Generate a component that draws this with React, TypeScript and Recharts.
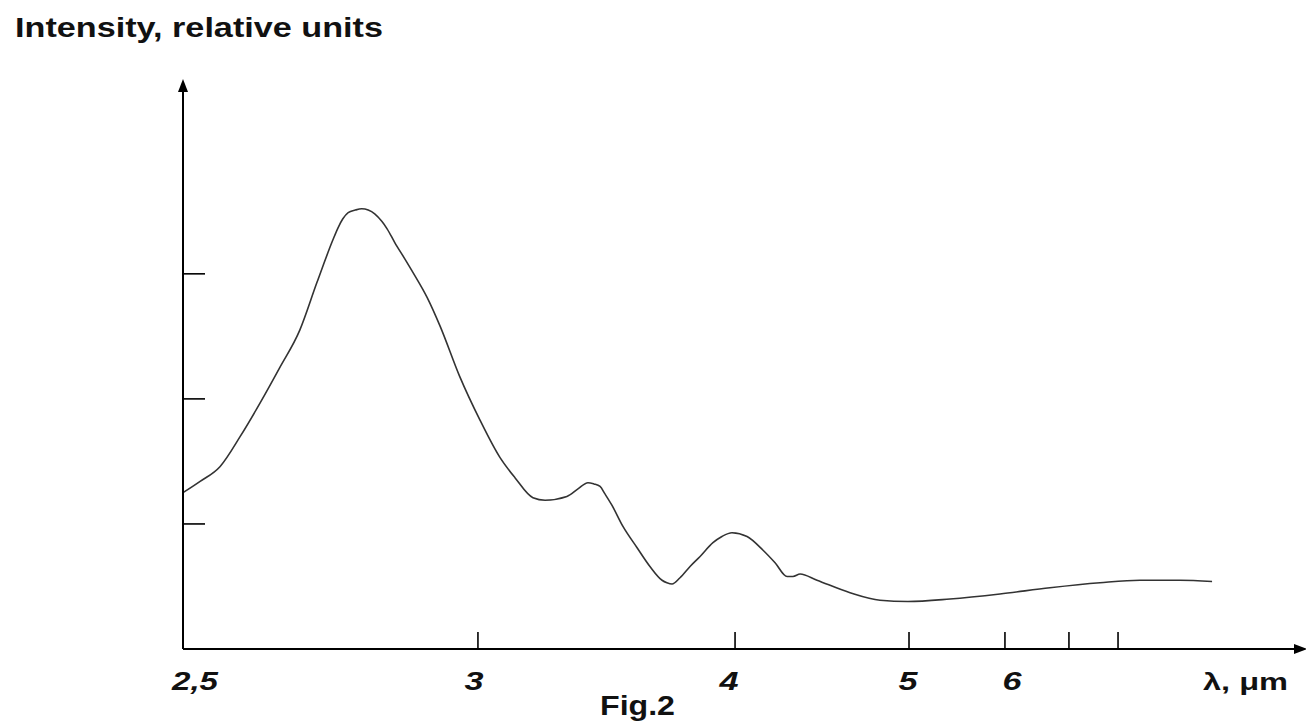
import React from 'react';
import { LineChart, Line, XAxis, YAxis, ReferenceDot } from 'recharts';

// ---- Data ----
const wavelengthUm = [
  2.5, 2.529, 2.563, 2.597, 2.631, 2.664, 2.698, 2.727, 2.754, 2.763,
  2.771, 2.78, 2.792, 2.803, 2.814, 2.825, 2.837, 2.846, 2.859, 2.876,
  2.89, 2.914, 2.936, 2.969, 3.008, 3.086, 3.144, 3.214, 3.261, 3.346,
  3.389, 3.428, 3.451, 3.475, 3.494, 3.521, 3.564, 3.619, 3.669, 3.716,
  3.735, 3.755, 3.786, 3.825, 3.864, 3.914, 3.949, 3.988, 4.069, 4.161,
  4.23, 4.299, 4.333, 4.374, 4.471, 4.661, 4.833, 4.994, 5.427, 5.948,
  6.703, 7.633, 8.449, 9.265, 9.918,
];
const intensity = [
  1.25, 1.34, 1.46, 1.7, 1.97, 2.25, 2.55, 2.93, 3.27, 3.37,
  3.44, 3.49, 3.51, 3.52, 3.51, 3.48, 3.42, 3.36, 3.25, 3.12,
  3.01, 2.81, 2.58, 2.18, 1.83, 1.53, 1.37, 1.21, 1.19, 1.22,
  1.28, 1.33, 1.32, 1.3, 1.24, 1.15, 0.98, 0.81, 0.66, 0.55,
  0.53, 0.52, 0.57, 0.66, 0.74, 0.85, 0.9, 0.93, 0.9, 0.79,
  0.69, 0.58, 0.58, 0.6, 0.55, 0.45, 0.39, 0.38, 0.4, 0.44,
  0.49, 0.53, 0.55, 0.55, 0.54,
];

const xTickWavelengths = [2.5, 3, 4, 5, 6, 7, 8];
const xTickLabels = ['2,5', '3', '4', '5', '6', '', ''];
const yTickValues = [1, 2, 3];
const yMax = 4.51;

// Hand-drawn, non-linear wavelength axis: knots (µm) and their fraction along the axis
const axisKnotsUm = [2.5, 3, 4, 5, 6, 7, 8, 11.63];
const axisKnotsFrac = [0, 0.265, 0.496, 0.6523, 0.7385, 0.796, 0.8401, 1];

const toAxis = (um: number) => {
  for (let i = 0; i < axisKnotsUm.length - 1; i++) {
    const a = axisKnotsUm[i];
    const b = axisKnotsUm[i + 1];
    if (um <= b || i === axisKnotsUm.length - 2) {
      const t = (um - a) / (b - a);
      return axisKnotsFrac[i] + t * (axisKnotsFrac[i + 1] - axisKnotsFrac[i]);
    }
  }
  return 1;
};

const data = wavelengthUm.map((w, i) => ({ pos: toAxis(w), wavelength: w, intensity: intensity[i] }));
const xTickPositions = xTickWavelengths.map(toAxis);

const FONT = '"Liberation Sans", Arial, Helvetica, sans-serif';

// label nudges/widths to mimic the original hand-set lettering
const labelNudge = [12, -4, -6, -1, 7, 0, 0];
const labelWidth = [46, 19, 19, 19, 19, 0, 0];

const XTick = (props: any) => {
  const { x, y, index } = props;
  const label = xTickLabels[index];
  return (
    <g>
      {index > 0 && <line x1={x} y1={y} x2={x} y2={y - 17} stroke="#000" strokeWidth={1.6} />}
      {label && (
        <text
          x={x + labelNudge[index]}
          y={y + 41}
          textAnchor="middle"
          fontFamily={FONT}
          fontWeight="bold"
          fontStyle="italic"
          fontSize={25}
          fill="#111"
          textLength={labelWidth[index]}
          lengthAdjust="spacingAndGlyphs"
        >
          {label}
        </text>
      )}
    </g>
  );
};

const YTick = (props: any) => {
  const { x, y } = props;
  return <line x1={x} y1={y} x2={x + 22} y2={y} stroke="#000" strokeWidth={1.6} />;
};

const ArrowUp = (props: any) => {
  const { cx, cy } = props;
  return <polygon points={`${cx},${cy - 6} ${cx - 5},${cy + 7} ${cx + 5},${cy + 7}`} fill="#000" />;
};
const ArrowRight = (props: any) => {
  const { cx, cy } = props;
  return <polygon points={`${cx + 11},${cy} ${cx - 2},${cy - 5} ${cx - 2},${cy + 5}`} fill="#000" />;
};

export default function App() {
  return (
    <div style={{ position: 'absolute', left: 0, top: 0, width: 1306, height: 725, background: '#fff' }}>
      <LineChart width={1306} height={725} data={data} margin={{ top: 85, right: 10, bottom: 46, left: 143 }}>
        <XAxis
          dataKey="pos"
          type="number"
          domain={[0, 1]}
          ticks={xTickPositions}
          interval={0}
          tick={<XTick />}
          tickLine={false}
          tickSize={0}
          tickMargin={0}
          height={30}
          axisLine={{ stroke: '#000', strokeWidth: 2 }}
        />
        <YAxis
          type="number"
          domain={[0, yMax]}
          ticks={yTickValues}
          interval={0}
          tick={<YTick />}
          tickLine={false}
          tickSize={0}
          tickMargin={0}
          width={40}
          axisLine={{ stroke: '#000', strokeWidth: 2 }}
        />
        <Line
          type="monotone"
          dataKey="intensity"
          stroke="#333"
          strokeWidth={1.6}
          dot={false}
          isAnimationActive={false}
        />
        <ReferenceDot x={0} y={yMax} ifOverflow="visible" shape={<ArrowUp />} />
        <ReferenceDot x={1} y={0} ifOverflow="visible" shape={<ArrowRight />} />
      </LineChart>
      <svg
        width={1306}
        height={725}
        style={{ position: 'absolute', left: 0, top: 0, pointerEvents: 'none' }}
      >
        <text
          x={15}
          y={37}
          fontFamily={FONT}
          fontWeight="bold"
          fontSize={27}
          fill="#111"
          textLength={368}
          lengthAdjust="spacingAndGlyphs"
        >
          Intensity, relative units
        </text>
        <text
          x={1203}
          y={690}
          fontFamily={FONT}
          fontWeight="bold"
          fontSize={24}
          fill="#111"
          textLength={85}
          lengthAdjust="spacingAndGlyphs"
        >
          λ, μm
        </text>
        <text
          x={600}
          y={715}
          fontFamily={FONT}
          fontWeight="bold"
          fontSize={27}
          fill="#111"
          textLength={75}
          lengthAdjust="spacingAndGlyphs"
        >
          Fig.2
        </text>
      </svg>
    </div>
  );
}
